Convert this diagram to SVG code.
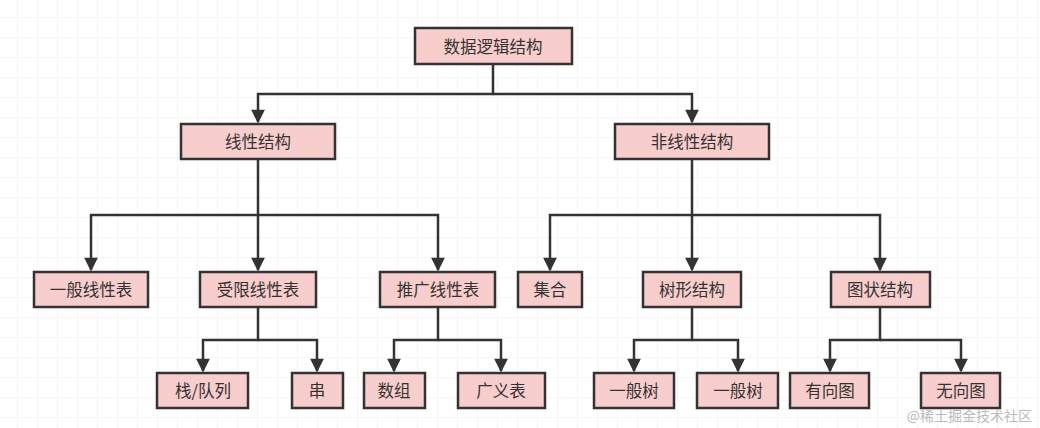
<svg xmlns="http://www.w3.org/2000/svg" width="1040" height="428" viewBox="0 0 1040 428">
<defs>
<pattern id="grid" width="20" height="20" patternUnits="userSpaceOnUse" x="-2" y="-2"><path d="M20 0V20M0 20H20" fill="none" stroke="#ececec" stroke-width="1"/></pattern>
<marker id="ar" viewBox="0 0 10 10" refX="9" refY="5" markerWidth="6" markerHeight="5.5" orient="auto" markerUnits="strokeWidth"><path d="M0 0L10 5L0 10z" fill="#333"/></marker>
</defs>
<style>
.n rect{fill:#f8cecc;stroke:#333;stroke-width:2.5}
.n text{font-family:"Noto Sans CJK SC",sans-serif;font-size:16.5px;fill:#333;text-anchor:middle;dominant-baseline:central}
.c path{fill:none;stroke:#333;stroke-width:2.5}
</style>
<rect width="1040" height="428" fill="#fff"/>
<rect width="1040" height="428" fill="url(#grid)"/>
<g class="c">
<path d="M493 64V94H258V122" marker-end="url(#ar)"/>
<path d="M493 94H692V122" marker-end="url(#ar)"/>
<path d="M258 159V215H91V270" marker-end="url(#ar)"/>
<path d="M258 215V270" marker-end="url(#ar)"/>
<path d="M258 215H438V270" marker-end="url(#ar)"/>
<path d="M692 159V215H550V270" marker-end="url(#ar)"/>
<path d="M692 215V270" marker-end="url(#ar)"/>
<path d="M692 215H880V270" marker-end="url(#ar)"/>
<path d="M258 307V340H203V371" marker-end="url(#ar)"/>
<path d="M258 340H317V371" marker-end="url(#ar)"/>
<path d="M438 307V340H394V371" marker-end="url(#ar)"/>
<path d="M438 340H501V371" marker-end="url(#ar)"/>
<path d="M692 307V340H634V371" marker-end="url(#ar)"/>
<path d="M692 340H738V371" marker-end="url(#ar)"/>
<path d="M880 307V340H830V371" marker-end="url(#ar)"/>
<path d="M880 340H961V371" marker-end="url(#ar)"/>
</g>
<g id="root" class="n"><rect x="415" y="28" width="157" height="36"/><text x="493" y="46">数据逻辑结构</text></g>
<g id="linear" class="n"><rect x="181" y="124" width="154" height="35"/><text x="258" y="141">线性结构</text></g>
<g id="nonlinear" class="n"><rect x="615" y="124" width="154" height="35"/><text x="692" y="141">非线性结构</text></g>
<g id="general" class="n"><rect x="34" y="272" width="114" height="35"/><text x="91" y="289">一般线性表</text></g>
<g id="restricted" class="n"><rect x="200" y="272" width="116" height="35"/><text x="258" y="289">受限线性表</text></g>
<g id="extended" class="n"><rect x="380" y="272" width="115" height="35"/><text x="438" y="289">推广线性表</text></g>
<g id="set" class="n"><rect x="518" y="272" width="64" height="35"/><text x="550" y="289">集合</text></g>
<g id="tree" class="n"><rect x="643" y="272" width="98" height="35"/><text x="692" y="289">树形结构</text></g>
<g id="graph" class="n"><rect x="831" y="272" width="99" height="35"/><text x="880" y="289">图状结构</text></g>
<g id="stack" class="n"><rect x="157" y="373" width="91" height="35"/><text x="203" y="390">栈/队列</text></g>
<g id="string" class="n"><rect x="292" y="373" width="51" height="35"/><text x="317" y="390">串</text></g>
<g id="array" class="n"><rect x="364" y="373" width="61" height="35"/><text x="394" y="390">数组</text></g>
<g id="glist" class="n"><rect x="458" y="373" width="87" height="35"/><text x="501" y="390">广义表</text></g>
<g id="tree1" class="n"><rect x="594" y="373" width="80" height="35"/><text x="634" y="390">一般树</text></g>
<g id="tree2" class="n"><rect x="697" y="373" width="81" height="35"/><text x="738" y="390">一般树</text></g>
<g id="digraph" class="n"><rect x="790" y="373" width="79" height="35"/><text x="830" y="390">有向图</text></g>
<g id="undigraph" class="n"><rect x="921" y="373" width="79" height="35"/><text x="961" y="390">无向图</text></g>
<text x="1032" y="421" font-family="Noto Sans CJK SC,sans-serif" font-size="14" fill="#bbb" text-anchor="end">@稀土掘金技术社区</text>
</svg>
